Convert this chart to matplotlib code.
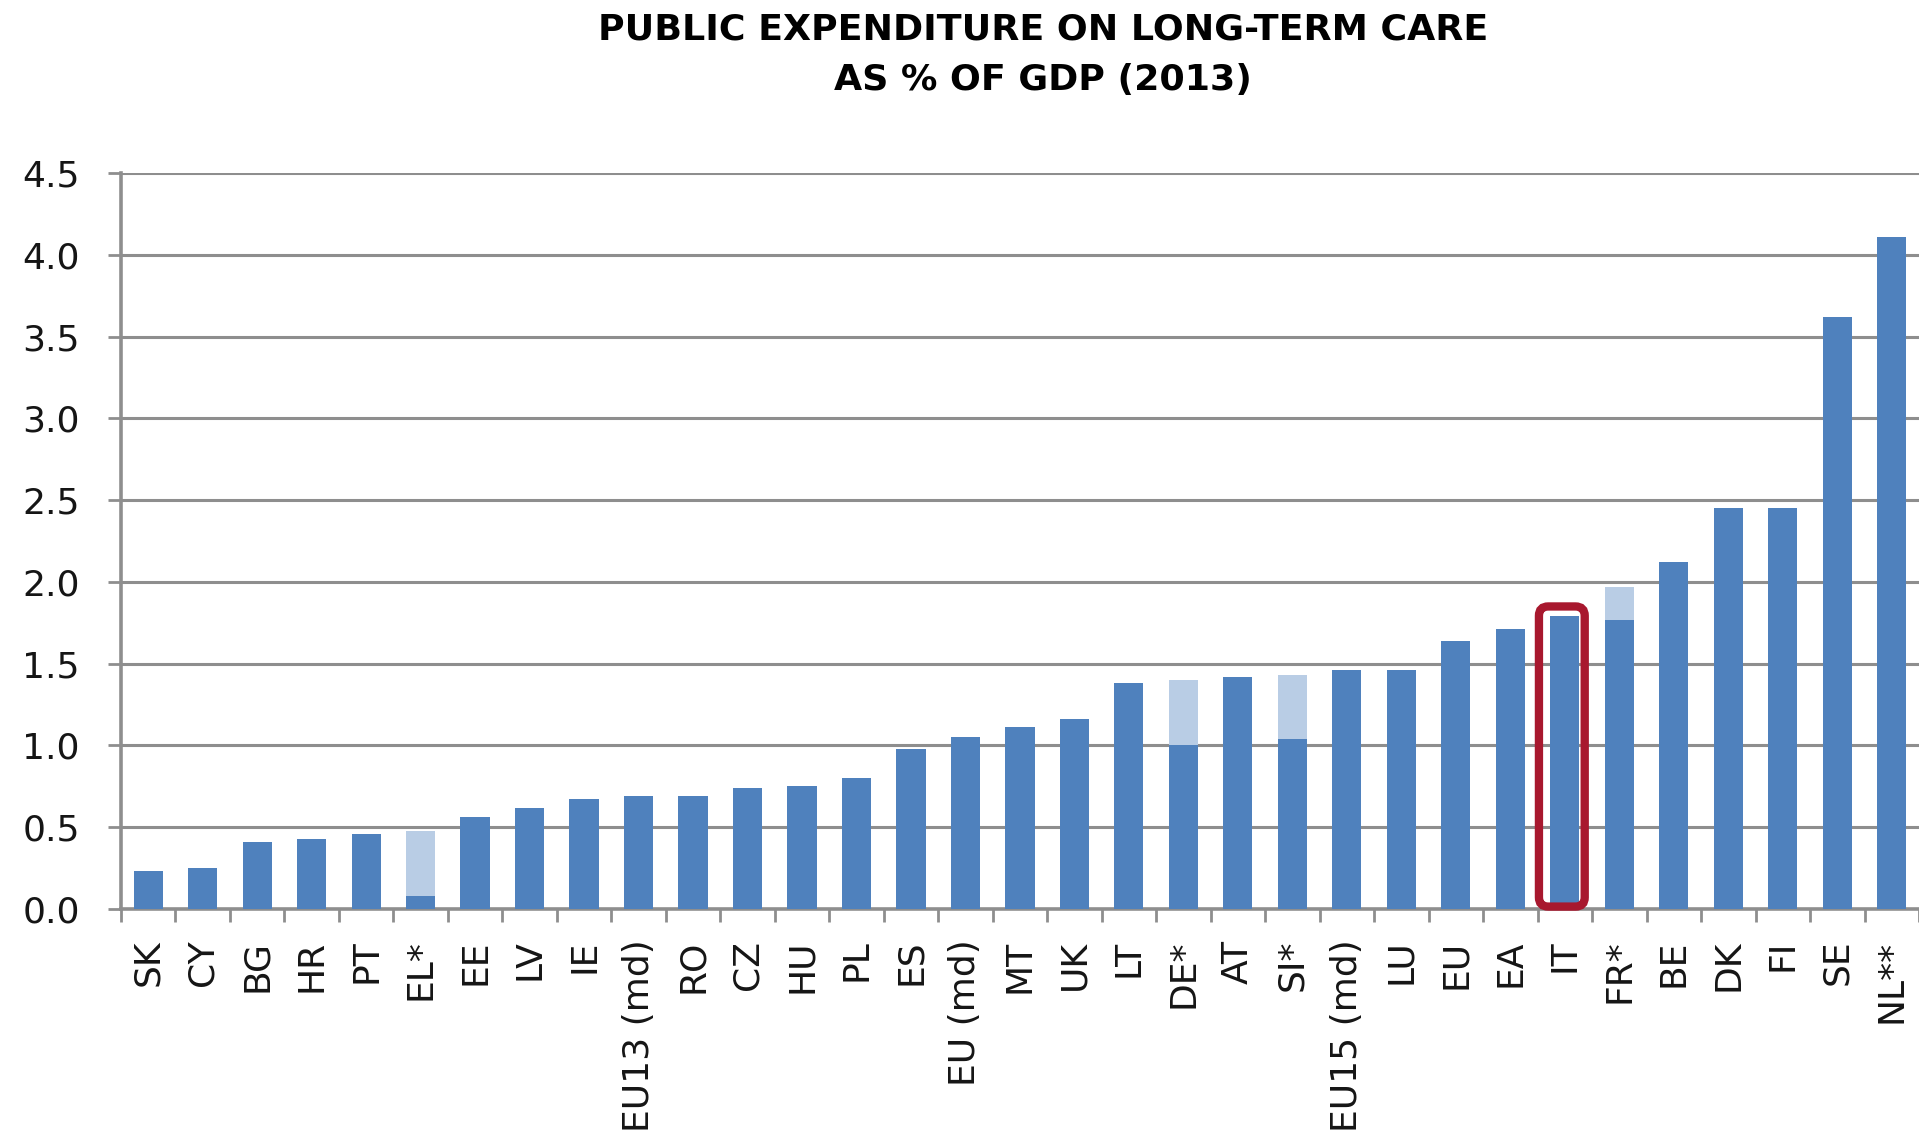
import matplotlib.pyplot as plt
from matplotlib.patches import FancyBboxPatch

# ================= Data =================
countries = ["SK", "CY", "BG", "HR", "PT", "EL*", "EE", "LV", "IE", "EU13 (md)",
             "RO", "CZ", "HU", "PL", "ES", "EU (md)", "MT", "UK", "LT", "DE*",
             "AT", "SI*", "EU15 (md)", "LU", "EU", "EA", "IT", "FR*", "BE", "DK",
             "FI", "SE", "NL**"]
base_values = [0.23, 0.25, 0.41, 0.43, 0.46, 0.08, 0.56, 0.62, 0.67, 0.69,
               0.69, 0.74, 0.75, 0.80, 0.98, 1.05, 1.11, 1.16, 1.38, 1.00,
               1.42, 1.04, 1.46, 1.46, 1.64, 1.71, 1.79, 1.77, 2.12, 2.45,
               2.45, 3.62, 4.11]
# light blue part on top of the starred countries
extra_values = [0, 0, 0, 0, 0, 0.40, 0, 0, 0, 0,
                0, 0, 0, 0, 0, 0, 0, 0, 0, 0.40,
                0, 0.39, 0, 0, 0, 0, 0, 0.20, 0, 0,
                0, 0, 0]
highlight = "IT"

y_ticks = [0.0, 0.5, 1.0, 1.5, 2.0, 2.5, 3.0, 3.5, 4.0, 4.5]

# ================= Style =================
DARK = "#4F81BD"
LIGHT = "#B9CDE5"
GRID = "#8E8E8E"
RED = "#A8182E"

plt.rcParams['font.family'] = ['DejaVu Sans']

fig = plt.figure(figsize=(19.19, 11.40), dpi=100)
ax = fig.add_axes([0.063, 0.2026, 0.937, 0.6456])

x = list(range(len(countries)))
ax.bar(x, base_values, width=0.535, color=DARK, zorder=3)
ax.bar(x, extra_values, width=0.535, bottom=base_values, color=LIGHT, zorder=3)

ax.set_xlim(-0.5, 32.34)
ax.set_ylim(0, 4.5)

# grid + axes
ax.set_yticks(y_ticks)
ax.set_yticklabels([f"{v:.1f}" for v in y_ticks], fontsize=26, color="#151515")
ax.yaxis.grid(True, color=GRID, linewidth=2.2, zorder=0)
ax.set_axisbelow(True)
ax.tick_params(axis="y", length=9.5, width=2, color=GRID, pad=20)

ax.set_xticks(x)
ax.set_xticklabels(countries, rotation=90, fontsize=26, color="#151515")
ax.set_xticks([i - 0.5 for i in range(len(countries) + 1)], minor=True)
ax.tick_params(axis="x", which="major", length=0, pad=22)
ax.tick_params(axis="x", which="minor", length=9, width=2, color=GRID)

for side in ["top", "right"]:
    ax.spines[side].set_visible(False)
for side in ["left", "bottom"]:
    ax.spines[side].set_color(GRID)
    ax.spines[side].set_linewidth(2.6)

# ================= Highlight box =================
i = countries.index(highlight)
top = base_values[i] + extra_values[i] + 0.06
box = FancyBboxPatch((i - 0.475, 0.015), 0.84, top - 0.015,
                     boxstyle="round,pad=0,rounding_size=0.17",
                     mutation_aspect=0.335, fill=False, edgecolor=RED,
                     linewidth=6, zorder=5, clip_on=False)
ax.add_patch(box)

# ================= Title =================
fig.text(0.5435, 0.974, "PUBLIC EXPENDITURE ON LONG-TERM CARE", ha="center", va="center",
         fontsize=26.2, fontweight="bold", family="DejaVu Sans")
fig.text(0.5435, 0.930, "AS % OF GDP (2013)", ha="center", va="center",
         fontsize=26.2, fontweight="bold", family="DejaVu Sans")

fig.savefig("out.png", dpi=100)
